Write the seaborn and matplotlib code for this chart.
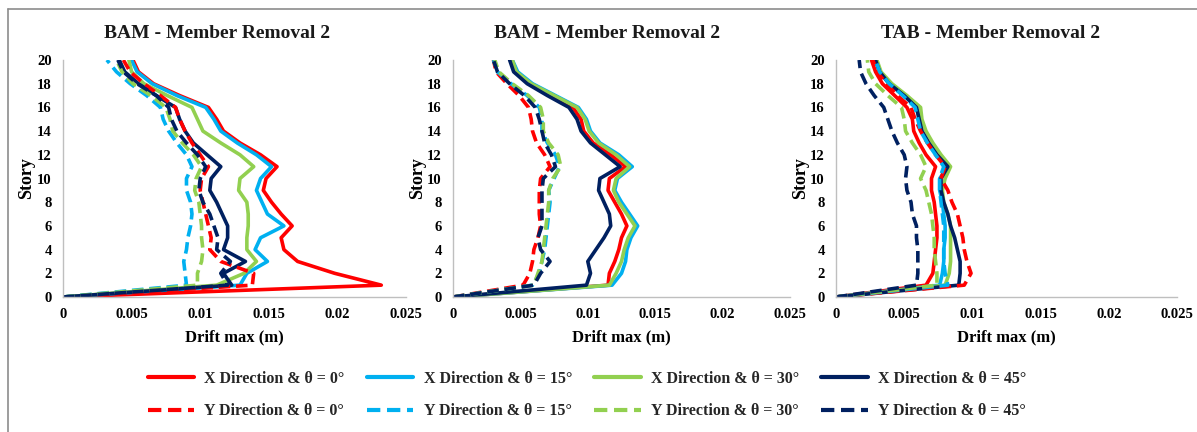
import matplotlib
matplotlib.use("Agg")
import matplotlib.pyplot as plt
from matplotlib.lines import Line2D
import pandas as pd
import seaborn as sns

# ---------------- data ----------------
stories = list(range(21))
x_ticks = [0, 0.005, 0.01, 0.015, 0.02, 0.025]
x_tick_labels = ["0", "0.005", "0.01", "0.015", "0.02", "0.025"]
y_ticks = list(range(0, 21, 2))

titles = ["BAM - Member Removal 2", "BAM - Member Removal 2", "TAB - Member Removal 2"]
series_labels = ["X Direction & θ = 0°", "X Direction & θ = 15°", "X Direction & θ = 30°",
                 "X Direction & θ = 45°", "Y Direction & θ = 0°", "Y Direction & θ = 15°",
                 "Y Direction & θ = 30°", "Y Direction & θ = 45°"]

# Panel 1 : BAM
b1_x0 = [0, 0.0232, 0.0198, 0.0171, 0.0161, 0.0159, 0.0167, 0.0159, 0.0152, 0.0146, 0.0148,
         0.0156, 0.0144, 0.0129, 0.0117, 0.0112, 0.0106, 0.0085, 0.0066, 0.0055, 0.0051]
b1_x15 = [0, 0.0129, 0.0134, 0.0149, 0.0140, 0.0144, 0.0161, 0.0149, 0.0145, 0.0141, 0.0144,
          0.0152, 0.0141, 0.0127, 0.0115, 0.0110, 0.0104, 0.0083, 0.0065, 0.0054, 0.0050]
b1_x30 = [0, 0.0112, 0.0132, 0.0141, 0.0134, 0.0134, 0.0135, 0.0135, 0.0134, 0.0128, 0.0129,
          0.0139, 0.0129, 0.0115, 0.0102, 0.0098, 0.0094, 0.0076, 0.0059, 0.0050, 0.0048]
b1_x45 = [0, 0.0123, 0.0117, 0.0133, 0.0117, 0.0120, 0.0120, 0.0116, 0.0112, 0.0107, 0.0108,
          0.0115, 0.0105, 0.0095, 0.0089, 0.0085, 0.0082, 0.0068, 0.0055, 0.0045, 0.0041]
b1_y0 = [0, 0.0138, 0.0139, 0.0115, 0.0107, 0.0108, 0.0106, 0.0104, 0.0102, 0.0100, 0.0101,
         0.0106, 0.0100, 0.0094, 0.0089, 0.0085, 0.0082, 0.0071, 0.0059, 0.0049, 0.0044]
b1_y15 = [0, 0.0090, 0.0089, 0.0088, 0.0090, 0.0091, 0.0093, 0.0094, 0.0093, 0.0090, 0.0090,
          0.0094, 0.0090, 0.0083, 0.0077, 0.0073, 0.0071, 0.0061, 0.0049, 0.0039, 0.0032]
b1_y30 = [0, 0.0098, 0.0098, 0.0101, 0.0102, 0.0101, 0.0101, 0.0100, 0.0099, 0.0096, 0.0097,
          0.0101, 0.0095, 0.0087, 0.0080, 0.0078, 0.0075, 0.0064, 0.0051, 0.0043, 0.0039]
b1_y45 = [0, 0.0120, 0.0115, 0.0122, 0.0112, 0.0113, 0.0110, 0.0107, 0.0102, 0.0099, 0.0100,
          0.0104, 0.0098, 0.0090, 0.0083, 0.0079, 0.0077, 0.0068, 0.0054, 0.0044, 0.0040]

# Panel 2 : BAM
b2_x0 = [0, 0.0115, 0.0116, 0.0120, 0.0123, 0.0125, 0.0129, 0.0125, 0.0120, 0.0115, 0.0116,
         0.0128, 0.0117, 0.0104, 0.0097, 0.0095, 0.0089, 0.0072, 0.0057, 0.0046, 0.0043]
b2_x15 = [0, 0.0118, 0.0125, 0.0128, 0.0129, 0.0132, 0.0137, 0.0131, 0.0125, 0.0120, 0.0122,
          0.0133, 0.0123, 0.0109, 0.0102, 0.0099, 0.0093, 0.0076, 0.0059, 0.0048, 0.0044]
b2_x30 = [0, 0.0116, 0.0121, 0.0125, 0.0127, 0.0130, 0.0135, 0.0129, 0.0123, 0.0119, 0.0121,
          0.0131, 0.0121, 0.0108, 0.0101, 0.0098, 0.0092, 0.0075, 0.0058, 0.0047, 0.0044]
b2_x45 = [0, 0.0099, 0.0102, 0.0100, 0.0106, 0.0112, 0.0117, 0.0116, 0.0112, 0.0108, 0.0109,
          0.0124, 0.0113, 0.0102, 0.0095, 0.0092, 0.0086, 0.0070, 0.0055, 0.0045, 0.0042]
b2_y0 = [0, 0.0052, 0.0057, 0.0059, 0.0060, 0.0063, 0.0065, 0.0064, 0.0064, 0.0064, 0.0065,
         0.0072, 0.0068, 0.0062, 0.0059, 0.0058, 0.0056, 0.0049, 0.0040, 0.0032, 0.0030]
b2_y15 = [0, 0.0059, 0.0064, 0.0066, 0.0068, 0.0069, 0.0070, 0.0071, 0.0072, 0.0071, 0.0075,
          0.0079, 0.0076, 0.0070, 0.0066, 0.0066, 0.0064, 0.0055, 0.0043, 0.0033, 0.0030]
b2_y30 = [0, 0.0060, 0.0063, 0.0066, 0.0067, 0.0068, 0.0069, 0.0070, 0.0071, 0.0071, 0.0074,
          0.0080, 0.0078, 0.0071, 0.0067, 0.0067, 0.0065, 0.0056, 0.0044, 0.0034, 0.0031]
b2_y45 = [0, 0.0060, 0.0065, 0.0072, 0.0065, 0.0063, 0.0066, 0.0066, 0.0066, 0.0066, 0.0067,
          0.0076, 0.0073, 0.0068, 0.0066, 0.0064, 0.0061, 0.0053, 0.0042, 0.0033, 0.0030]

# Panel 3 : TAB
t_x0 = [0, 0.0066, 0.0071, 0.0072, 0.0073, 0.0074, 0.0074, 0.0073, 0.0072, 0.0070, 0.0070,
        0.0073, 0.0066, 0.0061, 0.0057, 0.0056, 0.0052, 0.0043, 0.0034, 0.0029, 0.0026]
t_x15 = [0, 0.0076, 0.0078, 0.0079, 0.0079, 0.0080, 0.0080, 0.0079, 0.0078, 0.0076, 0.0076,
         0.0082, 0.0074, 0.0068, 0.0063, 0.0061, 0.0059, 0.0050, 0.0039, 0.0032, 0.0029]
t_x30 = [0, 0.0080, 0.0083, 0.0084, 0.0084, 0.0084, 0.0084, 0.0082, 0.0079, 0.0078, 0.0080,
         0.0084, 0.0077, 0.0071, 0.0066, 0.0063, 0.0062, 0.0052, 0.0041, 0.0033, 0.0030]
t_x45 = [0, 0.0090, 0.0091, 0.0091, 0.0089, 0.0087, 0.0084, 0.0082, 0.0079, 0.0077, 0.0077,
         0.0082, 0.0074, 0.0068, 0.0063, 0.0061, 0.0059, 0.0050, 0.0039, 0.0032, 0.0029]
t_y0 = [0, 0.0094, 0.0099, 0.0096, 0.0094, 0.0093, 0.0091, 0.0089, 0.0085, 0.0082, 0.0077,
        0.0080, 0.0073, 0.0067, 0.0062, 0.0058, 0.0055, 0.0045, 0.0037, 0.0030, 0.0027]
t_y15 = [0, 0.0082, 0.0080, 0.0079, 0.0079, 0.0079, 0.0079, 0.0078, 0.0077, 0.0076, 0.0076,
         0.0079, 0.0073, 0.0067, 0.0062, 0.0060, 0.0058, 0.0049, 0.0039, 0.0032, 0.0029]
t_y30 = [0, 0.0074, 0.0074, 0.0073, 0.0072, 0.0072, 0.0071, 0.0070, 0.0068, 0.0066, 0.0062,
         0.0066, 0.0062, 0.0056, 0.0051, 0.0050, 0.0048, 0.0038, 0.0029, 0.0024, 0.0023]
t_y45 = [0, 0.0059, 0.0060, 0.0060, 0.0060, 0.0059, 0.0059, 0.0056, 0.0055, 0.0052, 0.0051,
         0.0052, 0.0050, 0.0045, 0.0041, 0.0038, 0.0035, 0.0028, 0.0022, 0.0018, 0.0017]

panels = [
    [b1_x0, b1_x15, b1_x30, b1_x45, b1_y0, b1_y15, b1_y30, b1_y45],
    [b2_x0, b2_x15, b2_x30, b2_x45, b2_y0, b2_y15, b2_y30, b2_y45],
    [t_x0, t_x15, t_x30, t_x45, t_y0, t_y15, t_y30, t_y45],
]

# ---------------- style ----------------
colors = ["#FF0000", "#00B0F0", "#92D050", "#002060"] * 2
DASH = (0, (3.2, 1.6))
styles = ["-"] * 4 + [DASH] * 4

sns.set_theme(style="white")
plt.rcParams["font.family"] = ["Liberation Serif", "DejaVu Serif"]
plt.rcParams["font.weight"] = "bold"

W, H = 1197, 432
fig = plt.figure(figsize=(W / 100, H / 100), dpi=100)
fig.patch.set_facecolor("white")


def rect(l, r, t=60, b=297):
    return [l / W, 1 - b / H, (r - l) / W, (b - t) / H]


axes_px = [(63, 406), (453, 790), (836, 1177)]
title_x = [217, 607, 991]
spine_col = "#BFBFBF"

for i, (series, (l, r)) in enumerate(zip(panels, axes_px)):
    ax = fig.add_axes(rect(l, r))
    for vals, col, ls, lab in zip(series, colors, styles, series_labels):
        df = pd.DataFrame({"drift": vals, "story": stories})
        sns.lineplot(data=df, x="drift", y="story", orient="y", sort=False,
                     estimator=None, color=col, linestyle=ls, linewidth=2.6,
                     ax=ax, legend=False)
    ax.set_xlim(0, 0.025)
    ax.set_ylim(0, 20)
    ax.set_xticks(x_ticks)
    ax.set_xticklabels(x_tick_labels)
    ax.set_yticks(y_ticks)
    for s in ["top", "right"]:
        ax.spines[s].set_visible(False)
    for s in ["left", "bottom"]:
        ax.spines[s].set_color(spine_col)
        ax.spines[s].set_linewidth(1.0)
    ax.tick_params(axis="both", direction="out", length=4, width=1, color=spine_col,
                   labelsize=10.5, labelcolor="black")
    ax.tick_params(axis="x", pad=4)
    ax.tick_params(axis="y", pad=4)
    for t in ax.get_xticklabels() + ax.get_yticklabels():
        t.set_fontweight("bold")
    ax.set_xlabel("Drift max (m)", fontsize=12, fontweight="bold", color="black")
    ax.set_ylabel("Story", fontsize=13, fontweight="bold", color="black")
    ax.xaxis.set_label_coords(0.5, -0.135)
    ax.yaxis.set_label_coords(-0.08, 0.5)
    ax.set_facecolor("white")
    fig.text(title_x[i] / W, 1 - 33 / H, titles[i], ha="center", va="center",
             fontsize=14, fontweight="bold", color="#1a1a1a")

# legend
handles = [Line2D([0], [0], color=c, linestyle=ls, linewidth=3) for c, ls in zip(colors, styles)]
order = [0, 4, 1, 5, 2, 6, 3, 7]
leg = fig.legend([handles[k] for k in order], [series_labels[k] for k in order],
                 loc="center", bbox_to_anchor=(587 / W, 1 - 395 / H), ncol=4,
                 frameon=False, handlelength=2.9, handletextpad=0.65,
                 columnspacing=1.4, labelspacing=1.05,
                 prop={"weight": "bold", "size": 11.5})

# outer chart border (left & top)
fig.add_artist(Line2D([8 / W, 8 / W], [0, 1 - 9 / H], color="#8C8C8C", lw=1.2,
                      transform=fig.transFigure))
fig.add_artist(Line2D([8 / W, 1], [1 - 9 / H, 1 - 9 / H], color="#8C8C8C", lw=1.2,
                      transform=fig.transFigure))

fig.savefig("out.png", dpi=100, facecolor="white")
